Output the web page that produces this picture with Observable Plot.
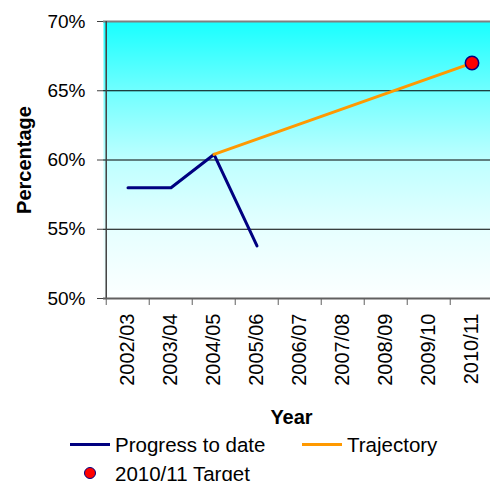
<!DOCTYPE html>
<html>
<head>
<meta charset="utf-8">
<script src="https://cdn.jsdelivr.net/npm/d3@7"></script>
<script src="https://cdn.jsdelivr.net/npm/@observablehq/plot@0.6"></script>
<style>
  html, body { margin: 0; padding: 0; background: #fff; overflow: hidden; }
  #wrap { position: relative; width: 490px; height: 481px; overflow: hidden;
          font-family: "Liberation Sans", Arial, sans-serif; color: #000; }
  #chart svg { display: block; max-width: none !important; }
  .key { position: absolute; font-size: 20.5px; line-height: 20px; white-space: nowrap; }
  .swatch { position: absolute; height: 3px; width: 40px; }
  .dotkey { position: absolute; width: 10px; height: 10px; border-radius: 50%; box-sizing: content-box; }
</style>
</head>
<body>
<div id="wrap">
  <div id="chart"></div>
</div>
<script>
// School years on the horizontal axis
const years = ["2002/03", "2003/04", "2004/05", "2005/06", "2006/07", "2007/08", "2008/09", "2009/10", "2010/11"];

// Measured progress so far (%)
const progressYears = ["2002/03", "2003/04", "2004/05", "2005/06"];
const progressValues = [58.0, 58.0, 60.4, 53.8];

// Planned trajectory from 2004/05 up to the target (%)
const trajectoryYears = ["2004/05", "2010/11"];
const trajectoryValues = [60.4, 67.0];

// The 2010/11 target (%)
const targetYears = ["2010/11"];
const targetValues = [67.0];

// Percentage ticks
const yTicks = [50, 55, 60, 65, 70];
const gridValues = [55, 60, 65];

const names = {progress: "Progress to date", trajectory: "Trajectory", target: "2010/11 Target"};
const colors = {progress: "#000080", trajectory: "#FF9900", target: "#FF0000"};

const progress = progressYears.map((year, i) => ({year, value: progressValues[i]}));
const trajectory = trajectoryYears.map((year, i) => ({year, value: trajectoryValues[i]}));
const target = targetYears.map((year, i) => ({year, value: targetValues[i]}));

const W = 496, H = 425, ML = 103, MR = 1, MT = 21, MB = 127;
const bw = (W - ML - MR) / years.length;
const font = "Liberation Sans, Arial, sans-serif";

const chart = Plot.plot({
  width: W,
  height: H,
  marginLeft: ML,
  marginRight: MR,
  marginTop: MT,
  marginBottom: MB,
  style: {fontFamily: font, fontSize: "20px", color: "#000", background: "transparent",
          overflow: "visible", maxWidth: "none"},
  x: {type: "band", domain: years, padding: 0},
  y: {domain: [50, 70]},
  marks: [
    // shaded plot area
    Plot.frame({fill: "url(#plotbg)", stroke: "none"}),
    // horizontal gridlines
    Plot.ruleY(gridValues, {stroke: "#000", strokeWidth: 1}),
    Plot.ruleY([70], {stroke: "#808080", strokeWidth: 2}),
    // left and bottom axis lines
    Plot.ruleX([years[0]], {dx: -bw / 2, stroke: "#404040", strokeWidth: 1.5}),
    Plot.ruleY([50], {stroke: "#606060", strokeWidth: 2}),
    // y axis ticks and labels
    Plot.axisY({ticks: yTicks, tickFormat: d => d + "%", tickSize: 6, tickPadding: 12,
      stroke: "#404040", fontSize: 19, label: "Percentage", labelArrow: false,
      labelAnchor: "center", labelOffset: 87}),
    // x axis ticks between the bands
    Plot.axisX({ticks: years, tickSize: 7, tickFormat: () => "", dx: -bw / 2, stroke: "#606060", label: null}),
    // x axis labels
    Plot.axisX({ticks: years, tickSize: 0, tickPadding: 15, tickRotate: -90, fontSize: 20,
      label: "Year", labelArrow: false, labelAnchor: "center", labelOffset: 125}),
    // series
    Plot.line(progress, {x: "year", y: "value", stroke: colors.progress, strokeWidth: 3}),
    Plot.line(trajectory, {x: "year", y: "value", stroke: colors.trajectory, strokeWidth: 3}),
    Plot.dot(target, {x: "year", y: "value", r: 6.7, fill: colors.target, stroke: colors.progress, strokeWidth: 1.5})
  ]
});

// vertical cyan-to-white fill for the plot area
const defs = d3.select(chart).insert("defs", ":first-child");
const grad = defs.append("linearGradient").attr("id", "plotbg")
  .attr("x1", 0).attr("y1", 0).attr("x2", 0).attr("y2", 1);
[[0, "#18FFFF"], [0.25, "#70FFFF"], [0.5, "#BEFFFF"], [0.75, "#E6FFFF"], [1, "#FCFFFF"]]
  .forEach(([o, c]) => grad.append("stop").attr("offset", o).attr("stop-color", c));

// bold axis titles
d3.select(chart).selectAll("[aria-label='y-axis label'] text, [aria-label='x-axis label'] text")
  .attr("font-weight", "bold").attr("font-size", 20);
// "Year" sits a little left of the plot centre
d3.select(chart).select("[aria-label='x-axis label']").each(function () {
  const t = this.getAttribute("transform") || "";
  this.setAttribute("transform", "translate(-8,0) " + t);
});

document.getElementById("chart").appendChild(chart);

// legend below the chart
const wrap = document.getElementById("wrap");
function add(el, css, text) {
  const e = document.createElement("div");
  e.className = el;
  Object.assign(e.style, css);
  if (text) e.textContent = text;
  wrap.appendChild(e);
}
add("swatch", {left: "70px", top: "443px", background: colors.progress});
add("key", {left: "115px", top: "435px"}, names.progress);
add("swatch", {left: "302px", top: "443px", background: colors.trajectory});
add("key", {left: "347px", top: "435px"}, names.trajectory);
add("dotkey", {left: "84px", top: "467px", background: colors.target, border: "1.5px solid " + colors.progress});
add("key", {left: "115px", top: "464px"}, names.target);
</script>
</body>
</html>
